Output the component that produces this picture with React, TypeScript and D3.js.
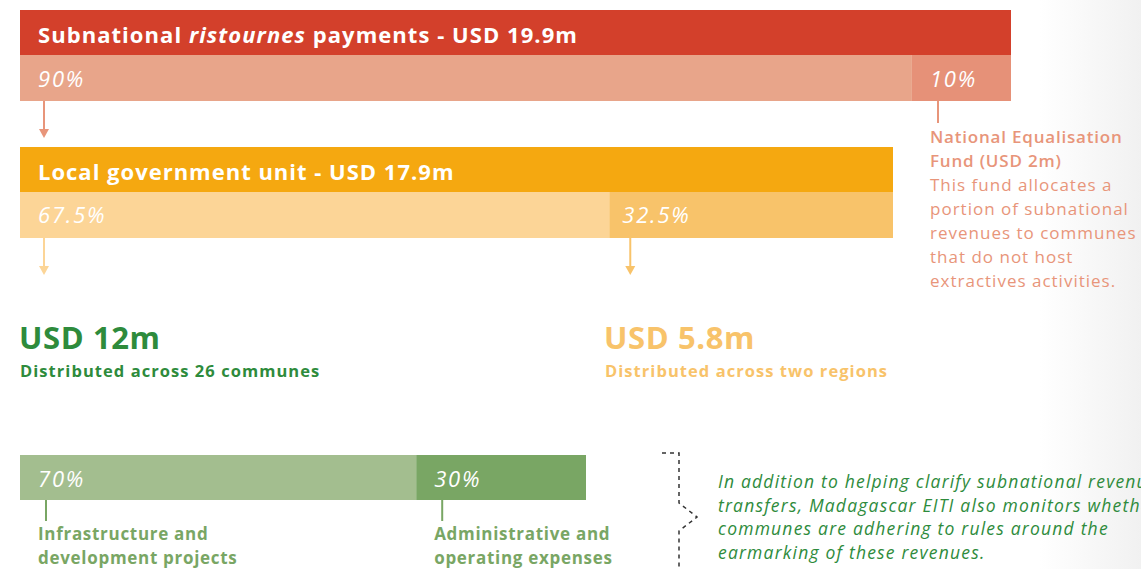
import React from "react";
import * as d3 from "d3";

const W = 1141;
const H = 569;

// Data
const totalPayments = 19.9; // USD m
const topSplitLabels = ["90%", "10%"];
const topSplitValues = [90, 10];
const localTotal = 17.9;
const localSplitLabels = ["67.5%", "32.5%"];
const localSplitValues = [67.5, 32.5];
const communeAmount = 12;
const regionAmount = 5.8;
const fundAmount = 2;
const useSplitLabels = ["70%", "30%"];
const useSplitValues = [70, 30];
const useCategories = [
  ["Infrastructure and", "development projects"],
  ["Administrative and", "operating expenses"],
];
const fundNoteLines = [
  "This fund allocates a",
  "portion of subnational",
  "revenues to communes",
  "that do not host",
  "extractives activities.",
];
const noteLines = [
  "In addition to helping clarify subnational revenue",
  "transfers, Madagascar EITI also monitors whether",
  "communes are adhering to rules around the",
  "earmarking of these revenues.",
];

const FONT = "'Open Sans', 'Noto Sans', sans-serif";

const C = {
  red: "#D3402B",
  redA: "#E8A58A",
  redB: "#E69178",
  redLine: "#E8957A",
  orange: "#F5A810",
  orA: "#FCD597",
  orB: "#F8C36A",
  greenA: "#A3BE8F",
  greenB: "#79A664",
  greenDark: "#2E8B3C",
};

function cum(vals: number[]) {
  let s = 0;
  return vals.map((v) => {
    const r = [s, s + v];
    s += v;
    return r;
  });
}

export default function App() {
  const xTop = d3.scaleLinear().domain([0, 100]).range([20, 1011]);
  const xLocal = d3.scaleLinear().domain([0, 100]).range([20, 893]);
  const xUse = d3.scaleLinear().domain([0, 100]).range([20, 586]);

  const topSegs = cum(topSplitValues);
  const localSegs = cum(localSplitValues);
  const useSegs = cum(useSplitValues);

  const topFills = [C.redA, C.redB];
  const localFills = [C.orA, C.orB];
  const useFills = [C.greenA, C.greenB];

  const arrow = (x: number, y0: number, y1: number, color: string, key: string) => (
    <g key={key}>
      <line x1={x} x2={x} y1={y0} y2={y1 - 7} stroke={color} strokeWidth={2} />
      <path d={`M${x - 5},${y1 - 9}L${x + 5},${y1 - 9}L${x},${y1}Z`} fill={color} />
    </g>
  );

  const bracket = d3.line<[number, number]>()([
    [662, 453],
    [679, 453],
    [679, 503],
    [697, 517],
    [679, 531],
    [679, 569],
  ]);

  const pct = { fontSize: 22, fontStyle: "italic", letterSpacing: 1.8 } as const;

  return (
    <svg
      width={W}
      height={H}
      style={{ position: "absolute", left: 0, top: 0, fontFamily: FONT }}
    >
      <defs>
        <linearGradient id="edge" x1="0" x2="1" y1="0" y2="0">
          <stop offset="0" stopColor="#ffffff" />
          <stop offset="1" stopColor="#f1f1f1" />
        </linearGradient>
      </defs>
      <rect x={0} y={0} width={W} height={H} fill="#fff" />
      <rect x={1040} y={0} width={W - 1040} height={H} fill="url(#edge)" />

      {/* Top bar */}
      <rect x={xTop(0)} y={10} width={xTop(100) - xTop(0)} height={45} fill={C.red} />
      <text x={38} y={43} fill="#fff" fontSize={22} fontWeight={700} letterSpacing={1.05}>
        Subnational <tspan fontStyle="italic">ristournes</tspan> payments - USD {totalPayments}m
      </text>
      {topSegs.map(([a, b], i) => (
        <g key={"t" + i}>
          <rect x={xTop(a)} y={55} width={xTop(b) - xTop(a)} height={46} fill={topFills[i]} />
          <text x={xTop(a) + 18} y={87} fill="#fff" {...pct}>
            {topSplitLabels[i]}
          </text>
        </g>
      ))}
      {arrow(44, 101, 138, C.redLine, "a1")}
      <line x1={938} x2={938} y1={101} y2={123} stroke={C.redLine} strokeWidth={2} />
      <text x={930} y={143} fill={C.redLine} fontSize={17} fontWeight={600} letterSpacing={0.8}>
        National Equalisation
      </text>
      <text x={930} y={167} fill={C.redLine} fontSize={17} fontWeight={600} letterSpacing={0.8}>
        Fund (USD {fundAmount}m)
      </text>
      {fundNoteLines.map((l, i) => (
        <text
          key={"f" + i}
          x={930}
          y={191 + i * 24}
          fill={C.redLine}
          fontSize={17}
          letterSpacing={1}
        >
          {l}
        </text>
      ))}

      {/* Local government bar */}
      <rect x={xLocal(0)} y={147} width={xLocal(100) - xLocal(0)} height={45} fill={C.orange} />
      <text x={38} y={180} fill="#fff" fontSize={22} fontWeight={700} letterSpacing={1}>
        Local government unit - USD {localTotal}m
      </text>
      {localSegs.map(([a, b], i) => (
        <g key={"l" + i}>
          <rect x={xLocal(a)} y={192} width={xLocal(b) - xLocal(a)} height={46} fill={localFills[i]} />
          <text x={xLocal(a) + (i === 0 ? 18 : 13)} y={223} fill="#fff" {...pct}>
            {localSplitLabels[i]}
          </text>
        </g>
      ))}
      {arrow(44, 238, 275, C.orA, "a2")}
      {arrow(xLocal(localSegs[1][0]) + 21, 238, 275, C.orB, "a3")}

      {/* Amounts */}
      <text x={19} y={349} fill={C.greenDark} fontSize={31} fontWeight={700} letterSpacing={0.6}>
        USD {communeAmount}m
      </text>
      <text x={20} y={377} fill={C.greenDark} fontSize={16.5} fontWeight={700} letterSpacing={1.05}>
        Distributed across 26 communes
      </text>
      <text x={604} y={349} fill={C.orB} fontSize={31} fontWeight={700} letterSpacing={0.6}>
        USD {regionAmount}m
      </text>
      <text x={605} y={377} fill={C.orB} fontSize={16.5} fontWeight={700} letterSpacing={1.05}>
        Distributed across two regions
      </text>

      {/* Use bar */}
      {useSegs.map(([a, b], i) => (
        <g key={"u" + i}>
          <rect x={xUse(a)} y={455} width={xUse(b) - xUse(a)} height={45} fill={useFills[i]} />
          <text x={xUse(a) + 18} y={487} fill="#fff" {...pct}>
            {useSplitLabels[i]}
          </text>
          <line
            x1={xUse(a) + 26}
            x2={xUse(a) + 26}
            y1={500}
            y2={521}
            stroke={C.greenB}
            strokeWidth={2}
          />
          {useCategories[i].map((l, j) => (
            <text
              key={j}
              x={xUse(a) + 18}
              y={540 + j * 24}
              fill={C.greenB}
              fontSize={17}
              fontWeight={700}
              letterSpacing={0.7}
            >
              {l}
            </text>
          ))}
        </g>
      ))}

      {/* Bracket */}
      <path d={bracket || ""} fill="none" stroke="#333" strokeWidth={1.5} strokeDasharray="4,4" />
      {noteLines.map((l, i) => (
        <text
          key={"n" + i}
          x={718}
          y={488 + i * 23.7}
          fill={C.greenDark}
          fontSize={17.5}
          fontStyle="italic"
          letterSpacing={1.2}
        >
          {l}
        </text>
      ))}
    </svg>
  );
}
